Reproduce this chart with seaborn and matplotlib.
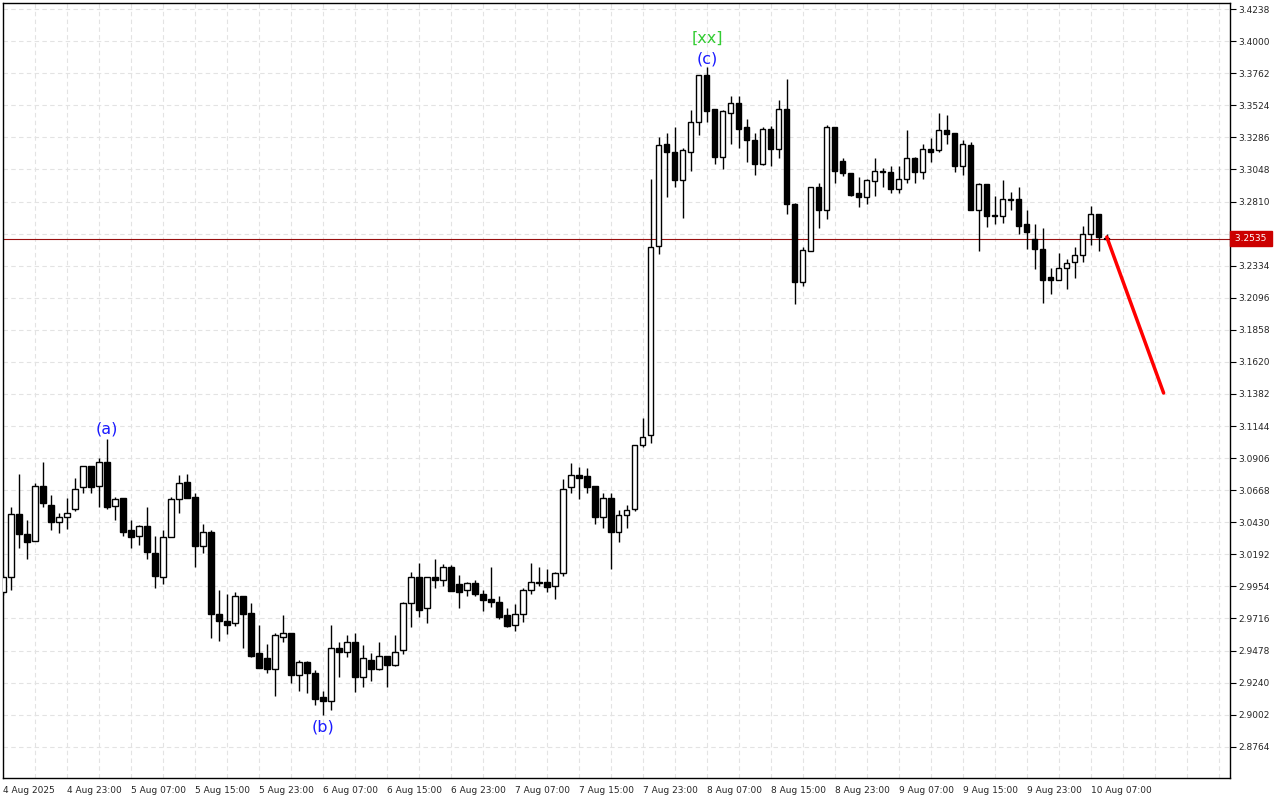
import matplotlib
matplotlib.use("Agg")
import matplotlib.pyplot as plt
import seaborn as sns
import numpy as np
import pandas as pd

# H1 candles, first one is 4 Aug 15:00
opens = [2.991, 3.002, 3.049, 3.034, 3.029, 3.070, 3.056, 3.043, 3.047, 3.053,
         3.069, 3.085, 3.070, 3.088, 3.055, 3.061, 3.037, 3.033, 3.040, 3.020,
         3.002, 3.032, 3.060, 3.073, 3.062, 3.025, 3.036, 2.975, 2.970, 2.968,
         2.988, 2.976, 2.946, 2.942, 2.934, 2.958, 2.961, 2.930, 2.939, 2.931,
         2.913, 2.910, 2.950, 2.947, 2.954, 2.928, 2.941, 2.934, 2.944, 2.937,
         2.948, 2.983, 3.002, 2.979, 3.002, 3.000, 3.010, 2.997, 2.993, 2.998,
         2.990, 2.986, 2.984, 2.974, 2.967, 2.975, 2.993, 2.999, 2.999, 2.996,
         3.005, 3.069, 3.078, 3.077, 3.070, 3.047, 3.061, 3.036, 3.048, 3.053,
         3.100, 3.108, 3.248, 3.324, 3.318, 3.297, 3.318, 3.340, 3.375, 3.350,
         3.314, 3.347, 3.354, 3.336, 3.327, 3.309, 3.335, 3.320, 3.350, 3.279,
         3.221, 3.244, 3.292, 3.275, 3.336, 3.311, 3.302, 3.287, 3.284, 3.296,
         3.304, 3.303, 3.290, 3.298, 3.313, 3.303, 3.320, 3.319, 3.334, 3.332,
         3.307, 3.323, 3.275, 3.294, 3.271, 3.270, 3.282, 3.283, 3.264, 3.253,
         3.246, 3.225, 3.223, 3.232, 3.236, 3.241, 3.257, 3.272, 3.254]
highs = [3.004, 3.054, 3.079, 3.045, 3.072, 3.088, 3.063, 3.050, 3.061, 3.076,
         3.085, 3.085, 3.091, 3.105, 3.062, 3.061, 3.045, 3.041, 3.054, 3.033,
         3.037, 3.062, 3.078, 3.079, 3.065, 3.042, 3.037, 2.993, 2.990, 2.991,
         2.988, 2.983, 2.967, 2.953, 2.961, 2.974, 2.961, 2.941, 2.940, 2.933,
         2.918, 2.967, 2.954, 2.959, 2.961, 2.952, 2.946, 2.954, 2.944, 2.959,
         2.984, 3.006, 3.013, 3.002, 3.016, 3.012, 3.011, 3.004, 2.999, 3.000,
         2.993, 3.010, 2.988, 2.979, 2.982, 2.994, 3.013, 3.010, 3.008, 3.006,
         3.075, 3.087, 3.084, 3.083, 3.070, 3.065, 3.065, 3.052, 3.056, 3.100,
         3.120, 3.298, 3.329, 3.332, 3.336, 3.321, 3.349, 3.375, 3.381, 3.350,
         3.349, 3.359, 3.359, 3.342, 3.332, 3.336, 3.337, 3.356, 3.372, 3.280,
         3.247, 3.292, 3.295, 3.338, 3.336, 3.313, 3.302, 3.299, 3.298, 3.313,
         3.306, 3.307, 3.307, 3.334, 3.314, 3.324, 3.328, 3.347, 3.345, 3.332,
         3.327, 3.325, 3.295, 3.294, 3.285, 3.297, 3.288, 3.292, 3.275, 3.264,
         3.261, 3.232, 3.243, 3.238, 3.247, 3.263, 3.278, 3.272, 3.257]
lows = [2.989, 2.993, 3.024, 3.016, 3.029, 3.054, 3.037, 3.035, 3.038, 3.051,
        3.065, 3.065, 3.054, 3.053, 3.045, 3.033, 3.024, 3.026, 3.016, 2.994,
        2.997, 3.032, 3.050, 3.061, 3.010, 3.020, 2.957, 2.955, 2.960, 2.966,
        2.950, 2.943, 2.935, 2.931, 2.914, 2.954, 2.924, 2.918, 2.916, 2.907,
        2.900, 2.904, 2.928, 2.943, 2.917, 2.921, 2.925, 2.933, 2.921, 2.936,
        2.945, 2.965, 2.973, 2.968, 2.994, 2.996, 2.992, 2.979, 2.988, 2.988,
        2.977, 2.980, 2.971, 2.965, 2.962, 2.969, 2.990, 2.996, 2.991, 2.986,
        3.003, 3.065, 3.060, 3.065, 3.042, 3.039, 3.008, 3.028, 3.039, 3.051,
        3.099, 3.102, 3.242, 3.284, 3.292, 3.269, 3.304, 3.330, 3.340, 3.309,
        3.305, 3.324, 3.321, 3.310, 3.301, 3.308, 3.307, 3.313, 3.272, 3.205,
        3.218, 3.244, 3.261, 3.268, 3.295, 3.300, 3.285, 3.277, 3.279, 3.285,
        3.292, 3.287, 3.287, 3.295, 3.295, 3.298, 3.310, 3.318, 3.324, 3.303,
        3.301, 3.275, 3.244, 3.262, 3.264, 3.265, 3.275, 3.257, 3.246, 3.231,
        3.206, 3.212, 3.223, 3.216, 3.224, 3.236, 3.249, 3.244, 3.254]
closes = [3.002, 3.049, 3.034, 3.028, 3.070, 3.057, 3.043, 3.047, 3.050, 3.068,
          3.085, 3.069, 3.088, 3.054, 3.060, 3.036, 3.032, 3.040, 3.021, 3.003,
          3.032, 3.060, 3.072, 3.061, 3.025, 3.036, 2.975, 2.970, 2.967, 2.988,
          2.975, 2.944, 2.935, 2.934, 2.959, 2.961, 2.930, 2.939, 2.931, 2.912,
          2.910, 2.950, 2.947, 2.954, 2.928, 2.942, 2.934, 2.944, 2.937, 2.947,
          2.983, 3.002, 2.978, 3.002, 3.000, 3.010, 2.992, 2.991, 2.998, 2.990,
          2.985, 2.984, 2.973, 2.966, 2.975, 2.993, 2.999, 2.998, 2.995, 3.005,
          3.068, 3.078, 3.076, 3.069, 3.047, 3.061, 3.036, 3.048, 3.052, 3.100,
          3.106, 3.247, 3.323, 3.318, 3.297, 3.319, 3.340, 3.375, 3.348, 3.314,
          3.348, 3.354, 3.335, 3.327, 3.309, 3.335, 3.320, 3.350, 3.279, 3.221,
          3.245, 3.292, 3.275, 3.336, 3.304, 3.302, 3.286, 3.284, 3.297, 3.304,
          3.303, 3.290, 3.298, 3.313, 3.303, 3.320, 3.318, 3.334, 3.331, 3.307,
          3.324, 3.275, 3.294, 3.270, 3.270, 3.283, 3.283, 3.263, 3.258, 3.246,
          3.223, 3.223, 3.232, 3.235, 3.241, 3.257, 3.272, 3.255, 3.2535]

forecast_x = [138, 145.1]
forecast_y = [3.2546, 3.1389]
last_price = 3.2535

tick_labels = ["4 Aug 2025", "4 Aug 23:00", "5 Aug 07:00", "5 Aug 15:00", "5 Aug 23:00",
               "6 Aug 07:00", "6 Aug 15:00", "6 Aug 23:00", "7 Aug 07:00", "7 Aug 15:00",
               "7 Aug 23:00", "8 Aug 07:00", "8 Aug 15:00", "8 Aug 23:00", "9 Aug 07:00",
               "9 Aug 15:00", "9 Aug 23:00", "10 Aug 07:00"]
price_ticks = [3.4238, 3.4000, 3.3762, 3.3524, 3.3286, 3.3048, 3.2810, 3.2572, 3.2334,
               3.2096, 3.1858, 3.1620, 3.1382, 3.1144, 3.0906, 3.0668, 3.0430, 3.0192,
               2.9954, 2.9716, 2.9478, 2.9240, 2.9002, 2.8764]

# (label, candle index, price, colour)
waves = [("(a)", 13, 3.112, "#1a1aff"), ("(b)", 40, 2.891, "#1a1aff"),
         ("(c)", 88, 3.387, "#1a1aff"), ("[xx]", 88, 3.402, "#33cc33")]

df = pd.DataFrame({"open": opens, "high": highs, "low": lows, "close": closes})
df["idx"] = np.arange(len(df))
df["up"] = df["close"] >= df["open"]

sns.set_theme(style="white")
plt.rcParams["font.family"] = ["DejaVu Sans"]

fig = plt.figure(figsize=(12.8, 8), dpi=100)
ax = fig.add_axes([3 / 1280, 22 / 800, 1227 / 1280, 775 / 800])

# grid
for gx in np.arange(0, 154, 4):
    ax.axvline(gx, color="#e3e3e3", lw=0.8, ls=(0, (4, 3)), zorder=0)
for gy in price_ticks:
    ax.axhline(gy, color="#e3e3e3", lw=0.8, ls=(0, (4, 3)), zorder=0)

ax.vlines(df["idx"], df["low"], df["high"], color="black", lw=1, zorder=2)
bottom = df[["open", "close"]].min(axis=1)
height = (df["close"] - df["open"]).abs().clip(lower=0.0006)
colors = np.where(df["up"], "white", "black")
ax.bar(df["idx"], height, bottom=bottom, width=0.65, color=colors,
       edgecolor="black", linewidth=1, zorder=3)

ax.axhline(last_price, color="#9a1010", lw=0.8, zorder=1)
ax.plot(forecast_x, forecast_y, color="#ff0000", lw=2.5, zorder=4)

for txt, i, p, c in waves:
    ax.text(i, p, txt, color=c, fontsize=11.5, ha="center", va="center")

ax.set_xlim(0, 153.4)
ax.set_ylim(2.8532, 3.4283)

ax.yaxis.tick_right()
ax.set_yticks(price_ticks)
labels = [f"{t:.4f}" for t in price_ticks]
labels[7] = ""  # hidden behind the current price box
ax.set_yticklabels(labels, fontsize=6.5)
ax.tick_params(axis="y", length=4, width=0.8, color="black", pad=2)

xt = np.arange(0, 137, 8)
ax.set_xticks(xt)
ax.set_xticklabels(tick_labels, fontsize=6.5, ha="left")
ax.tick_params(axis="x", length=4, width=0.8, color="black", pad=2)

for s in ax.spines.values():
    s.set_color("black")
    s.set_linewidth(1)

ax.text(1.002, last_price, f" {last_price:.4f} ", transform=ax.get_yaxis_transform(),
        fontsize=6.5, color="white", va="center", ha="left",
        bbox=dict(boxstyle="square,pad=0.3", fc="#cc0000", ec="#cc0000"))

fig.savefig("out.png", dpi=100, facecolor="white")
